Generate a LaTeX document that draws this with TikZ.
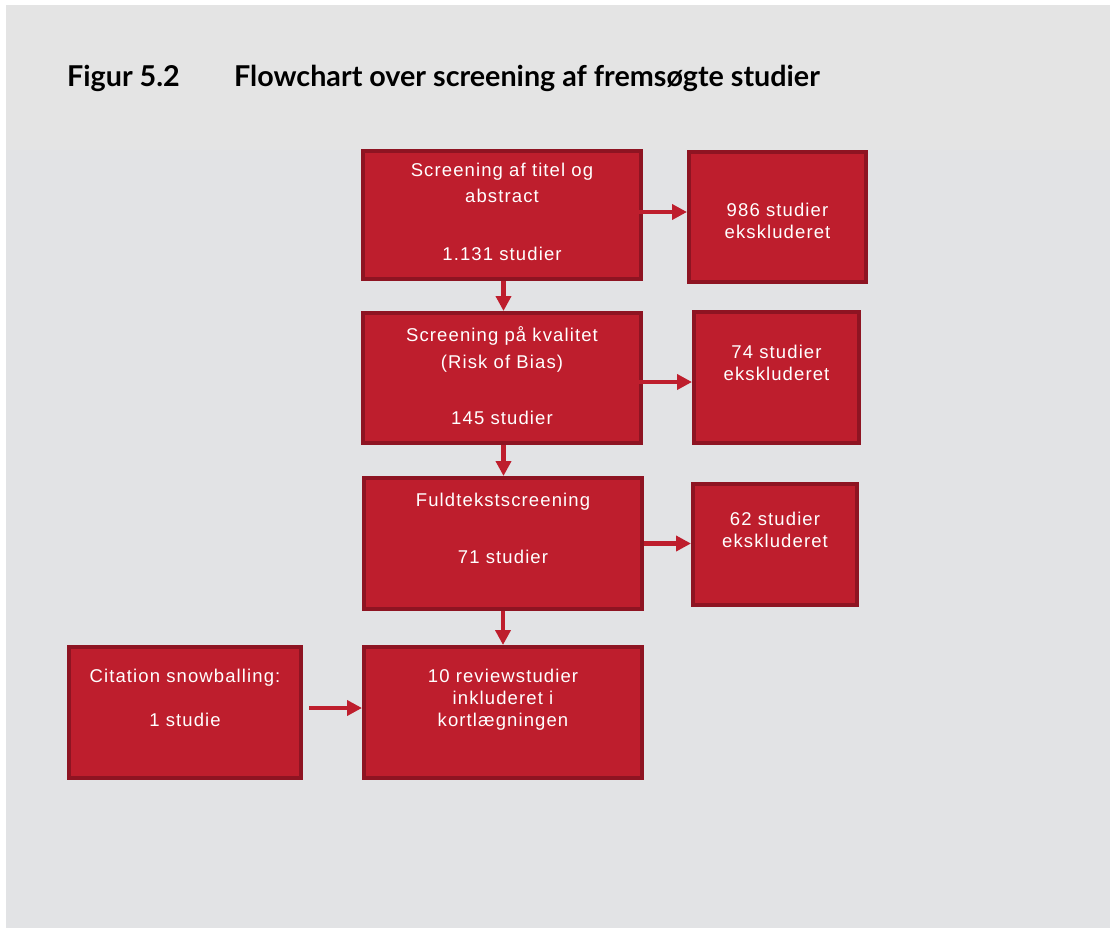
\documentclass[tikz,border=0pt]{standalone}
\usepackage{fontspec}
\usepackage{tikz}
\usetikzlibrary{arrows.meta}
\setmainfont{Liberation Sans}
\newfontfamily\boxfont[LetterSpace=6]{Liberation Sans}
\newfontfamily\titlefont{Lato}
\definecolor{flowred}{HTML}{BE1E2D}
\definecolor{flowedge}{HTML}{8E1422}
\definecolor{pagegray}{HTML}{E2E3E5}
\definecolor{bandgray}{HTML}{E4E4E4}
\tikzstyle{flowbox} = [
    draw=flowedge,
    fill=flowred,
    line width=4pt,
    rectangle,
    inner sep=0pt,
    text=white,
    font=\boxfont\fontsize{18.5}{22}\selectfont
    ]
\tikzstyle{flowarrow} = [
    draw=flowred,
    line width=4.5pt,
    -{Triangle[length=15pt,width=15pt]}
    ]
\tikzstyle{figtitle} = [
    anchor=base west,
    inner sep=0pt,
    font=\titlefont\bfseries\fontsize{28.7}{34}\selectfont
    ]
\begin{document}
\begin{tikzpicture}[x=1pt,y=-1pt]
\useasboundingbox (0,0) rectangle (1110,928);
\fill[white] (0,0) rectangle (1110,928);
\fill[pagegray] (6,5) rectangle (1110,928);
\fill[bandgray] (6,5) rectangle (1110,150);

\node[figtitle] (fignum) at (67,87) {Figur 5.2};
\node[figtitle] (figname) at (234,87) {Flowchart over screening af fremsøgte studier};

% screening steps
\node[flowbox] (a) at (502,215) {%
    \begin{minipage}[c][128pt][t]{278pt}\centering
    \vspace*{10.6pt}\strut Screening af titel og\\[4pt]
    abstract\\[36pt]
    1.131 studier
    \end{minipage}
};
\node[flowbox] (c) at (502,378) {%
    \begin{minipage}[c][130pt][t]{278pt}\centering
    \vspace*{12.6pt}\strut Screening på kvalitet\\[5pt]
    (Risk of Bias)\\[34pt]
    145 studier
    \end{minipage}
};
\node[flowbox] (e) at (503,543.5) {%
    \begin{minipage}[c][131pt][t]{278pt}\centering
    \vspace*{12.6pt}\strut Fuldtekstscreening\\[35pt]
    71 studier
    \end{minipage}
};
\node[flowbox] (h) at (503,712.5) {%
    \begin{minipage}[c][131pt][t]{278pt}\centering
    \vspace*{19.6pt}\strut 10 reviewstudier\\
    inkluderet i\\
    kortlægningen
    \end{minipage}
};
\node[flowbox] (g) at (185,712.5) {%
    \begin{minipage}[c][131pt][t]{232pt}\centering
    \vspace*{19.6pt}\strut Citation snowballing:\\[22pt]
    1 studie
    \end{minipage}
};

% excluded
\node[flowbox] (b) at (777.5,217) {%
    \begin{minipage}[c][130pt][t]{177pt}\centering
    \vspace*{48.6pt}\strut 986 studier\\
    ekskluderet
    \end{minipage}
};
\node[flowbox] (d) at (776.5,377.5) {%
    \begin{minipage}[c][131pt][t]{165pt}\centering
    \vspace*{30.6pt}\strut 74 studier\\
    ekskluderet
    \end{minipage}
};
\node[flowbox] (f) at (775,544.5) {%
    \begin{minipage}[c][121pt][t]{164pt}\centering
    \vspace*{25.6pt}\strut 62 studier\\
    ekskluderet
    \end{minipage}
};

\draw[flowarrow] ([xshift=-13pt,yshift=3pt]a.east) coordinate (ab) -- (ab -| b.west);
\draw[flowarrow] ([xshift=-12pt,yshift=-4pt]c.east) coordinate (cd) -- (cd -| d.west);
\draw[flowarrow] (e.east) coordinate (ef) -- (ef -| f.west);
\draw[flowarrow] ([xshift=6pt,yshift=4.5pt]g.east) coordinate (gh) -- (gh -| h.west);
\draw[flowarrow] ([xshift=1.5pt]a.south) coordinate (ac) -- (ac |- c.north);
\draw[flowarrow] ([xshift=1.5pt]c.south) coordinate (ce) -- (ce |- e.north);
\draw[flowarrow] (e.south) -- (h.north);
\end{tikzpicture}
\end{document}
